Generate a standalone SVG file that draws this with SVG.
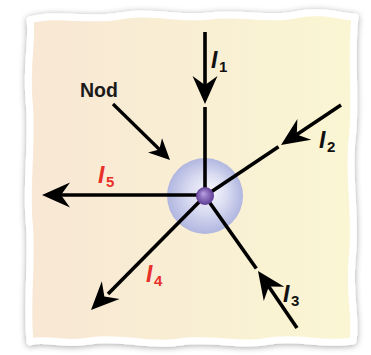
<svg xmlns="http://www.w3.org/2000/svg" width="371" height="355" viewBox="0 0 371 355">
<defs>
<linearGradient id="paper" x1="0" y1="0" x2="1" y2="0">
<stop offset="0" stop-color="#f8e7d4"/>
<stop offset="1" stop-color="#faf6d3"/>
</linearGradient>
<radialGradient id="halo" cx="0.5" cy="0.5" r="0.5" fx="0.58" fy="0.42">
<stop offset="0" stop-color="#f7f7fc"/>
<stop offset="0.5" stop-color="#dadcf1"/>
<stop offset="1" stop-color="#b0b6e0"/>
</radialGradient>
<radialGradient id="dot" cx="0.5" cy="0.5" r="0.5" fx="0.4" fy="0.35">
<stop offset="0" stop-color="#b9a0e2"/>
<stop offset="1" stop-color="#5d3c94"/>
</radialGradient>
<filter id="shadow" x="-10%" y="-10%" width="120%" height="120%">
<feDropShadow dx="0" dy="1" stdDeviation="3" flood-color="#000" flood-opacity="0.35"/>
</filter>
<path id="head" d="M0,0 L-28,-12.5 L-19,0 L-28,12.5 Z"/>
<path id="headS" d="M0,0 L-21,-10 L-15,0 L-21,10 Z"/>
<style>
.ln{stroke:#000;stroke-width:3.6;fill:none;stroke-linecap:butt}
.ah{fill:#000}
.lab{font-family:"Liberation Sans",Arial,sans-serif;font-weight:bold;font-style:italic;font-size:23px}
.sub{font-family:"Liberation Sans",Arial,sans-serif;font-weight:bold;font-size:15px}
.blk{fill:#111}
.red{fill:#e8302a}
</style>
</defs>
<g id="paper-bg">
<path filter="url(#shadow)" fill="url(#paper)" stroke="#fff" stroke-width="7" stroke-linejoin="round" d="M30,20 C60,12 90,22 120,16 C150,10 180,20 210,16 C240,12 270,21 300,14 C320,10 340,16 355,17 C350,60 357,100 352,140 C348,180 357,220 352,260 C349,300 357,320 353,341 C320,346 300,336 270,341 C240,347 210,337 180,342 C150,347 120,336 90,341 C60,346 45,337 30,342 C26,300 33,260 29,220 C26,180 33,140 29,100 C26,60 33,40 30,20 Z"/>
</g>
<g id="node">
<circle cx="205" cy="196" r="38" fill="url(#halo)"/>
</g>
<g id="connectors">
<g id="i1">
<line class="ln" x1="205" y1="32" x2="205" y2="92"/>
<use href="#head" class="ah" transform="translate(205,104) rotate(90)"/>
<line class="ln" x1="205" y1="107" x2="205" y2="196"/>
</g>
<g id="i2">
<line class="ln" x1="341" y1="105" x2="292" y2="137.7"/>
<use href="#head" class="ah" transform="translate(281,145) rotate(146.3)"/>
<line class="ln" x1="278.5" y1="146.7" x2="205" y2="196"/>
</g>
<g id="i3">
<line class="ln" x1="297" y1="328" x2="265" y2="281"/>
<use href="#head" class="ah" transform="translate(258,271) rotate(-124.9)"/>
<line class="ln" x1="256.3" y1="268.5" x2="205" y2="196"/>
</g>
<g id="i4">
<line class="ln" x1="205" y1="196" x2="108" y2="294"/>
<use href="#head" class="ah" transform="translate(91,310) rotate(134.7)"/>
</g>
<g id="i5">
<line class="ln" x1="205" y1="195" x2="60" y2="195"/>
<use href="#head" class="ah" transform="translate(42,195) rotate(180)"/>
</g>
<g id="nod-arrow">
<line class="ln" style="stroke-width:3.2" x1="113" y1="104" x2="160" y2="150"/>
<use href="#headS" class="ah" transform="translate(170,160) rotate(44.5)"/>
</g>
</g>
<g id="center-dot">
<circle cx="205" cy="196" r="9" fill="url(#dot)"/>
</g>
<g id="labels">
<g id="label-i1"><text class="lab blk" x="211" y="68">I</text><text class="sub blk" x="219" y="72">1</text></g>
<g id="label-i2"><text class="lab blk" x="319" y="148">I</text><text class="sub blk" x="327" y="152">2</text></g>
<g id="label-i3"><text class="lab blk" x="283" y="302">I</text><text class="sub blk" x="291" y="306">3</text></g>
<g id="label-i4"><text class="lab red" x="146" y="282">I</text><text class="sub red" x="154" y="286">4</text></g>
<g id="label-i5"><text class="lab red" x="98" y="183">I</text><text class="sub red" x="106" y="187">5</text></g>
<g id="label-nod"><text x="80" y="97" style="font-family:'Liberation Sans',Arial,sans-serif;font-weight:bold;font-size:19.5px" fill="#1a1a1a">Nod</text></g>
</g>
</svg>
